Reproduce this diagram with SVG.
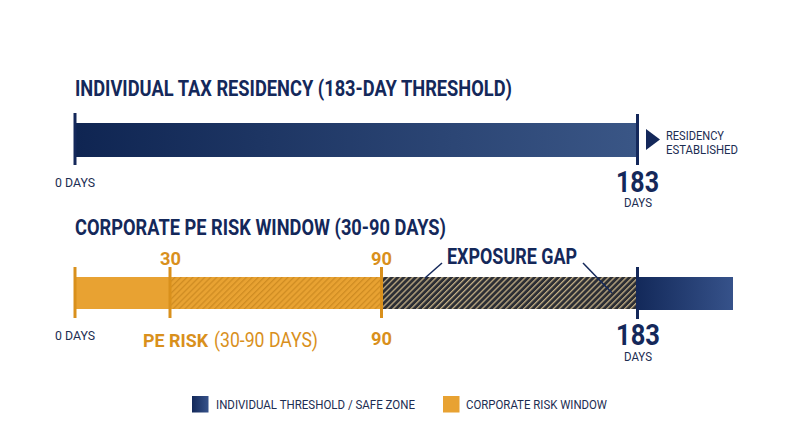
<svg xmlns="http://www.w3.org/2000/svg" width="800" height="447" viewBox="0 0 800 447">
<defs>
<linearGradient id="navy" x1="0" y1="0" x2="1" y2="0">
<stop offset="0" stop-color="#0f2552"/>
<stop offset="1" stop-color="#3a5686"/>
</linearGradient>
<linearGradient id="navy2" x1="0" y1="0" x2="1" y2="0">
<stop offset="0" stop-color="#13295a"/>
<stop offset="1" stop-color="#36528a"/>
</linearGradient>
<pattern id="hatchO" width="4.2" height="4.2" patternUnits="userSpaceOnUse" patternTransform="rotate(45)">
<rect width="4.2" height="4.2" fill="#e8a232"/>
<rect width="1.3" height="4.2" fill="#cf8c22"/>
</pattern>
<pattern id="hatchG" width="4.2" height="4.2" patternUnits="userSpaceOnUse" patternTransform="rotate(45)">
<rect width="4.2" height="4.2" fill="#2c2e34"/>
<rect width="1.3" height="4.2" fill="#c2ae86"/>
</pattern>
<style>
.t{font-family:Roboto,"Liberation Sans",sans-serif;}
.h{font-weight:bold;fill:#14285a;font-size:22px;}
.s{fill:#1c2d52;font-size:12.5px;}
.big{font-weight:bold;fill:#14285a;font-size:30px;}
.or{font-weight:bold;fill:#d9901c;font-size:19px;}
.tick{stroke:#14285a;stroke-width:3;}
.otick{stroke:#d9901c;stroke-width:3;}
.lead{stroke:#14285a;stroke-width:1.5;fill:none;}
</style>
</defs>

<g id="title-individual">
<text class="t h" x="75" y="96" textLength="437" lengthAdjust="spacingAndGlyphs">INDIVIDUAL TAX RESIDENCY (183-DAY THRESHOLD)</text>
</g>

<g id="bar-individual">
<rect x="75" y="123" width="562" height="34" fill="url(#navy)"/>
<line class="tick" x1="75" y1="113" x2="75" y2="165" stroke-width="2"/>
<line class="tick" x1="637.5" y1="114" x2="637.5" y2="165"/>
<text class="t s" x="55" y="187" font-size="14" textLength="40" lengthAdjust="spacingAndGlyphs">0 DAYS</text>
</g>

<g id="marker-183-top">
<polygon points="646,129 660,139.5 646,150" fill="#14285a"/>
<text class="t s" x="666" y="140" textLength="58" lengthAdjust="spacingAndGlyphs">RESIDENCY</text>
<text class="t s" x="666" y="154" textLength="72" lengthAdjust="spacingAndGlyphs">ESTABLISHED</text>
<text class="t big" x="616" y="192" textLength="43" lengthAdjust="spacingAndGlyphs">183</text>
<text class="t s" x="624" y="207" font-size="11.5" textLength="28" lengthAdjust="spacingAndGlyphs">DAYS</text>
</g>

<g id="title-corporate">
<text class="t h" x="75" y="235" textLength="371" lengthAdjust="spacingAndGlyphs">CORPORATE PE RISK WINDOW (30-90 DAYS)</text>
</g>

<g id="bar-corporate">
<rect x="75" y="277" width="95" height="32" fill="#e8a232"/>
<rect x="170" y="277" width="212" height="32" fill="url(#hatchO)"/>
<rect x="382" y="277" width="255" height="32" fill="url(#hatchG)"/>
<rect x="637" y="277" width="96" height="33" fill="url(#navy2)"/>
<line class="otick" x1="75" y1="267" x2="75" y2="318" stroke-width="2"/>
<line class="otick" x1="170" y1="267" x2="170" y2="318"/>
<line class="otick" x1="381.5" y1="267" x2="381.5" y2="318"/>
<line class="tick" x1="637.5" y1="267" x2="637.5" y2="319"/>
<text class="t or" x="160" y="265" textLength="21" lengthAdjust="spacingAndGlyphs">30</text>
<text class="t or" x="371" y="265" textLength="21" lengthAdjust="spacingAndGlyphs">90</text>
<text class="t or" x="371" y="345" textLength="21" lengthAdjust="spacingAndGlyphs">90</text>
<text class="t s" x="55" y="340" font-size="14" textLength="40" lengthAdjust="spacingAndGlyphs">0 DAYS</text>
</g>

<g id="label-pe-risk">
<text class="t or" x="143" y="347" font-size="20" textLength="65" lengthAdjust="spacingAndGlyphs">PE RISK</text>
<text class="t" x="214" y="347" font-size="20" fill="#d9901c" textLength="104" lengthAdjust="spacingAndGlyphs">(30-90 DAYS)</text>
</g>

<g id="label-exposure-gap">
<text class="t h" x="447" y="264" font-size="20" textLength="130" lengthAdjust="spacingAndGlyphs">EXPOSURE GAP</text>
</g>

<g id="connectors">
<line class="lead" x1="442" y1="263" x2="425" y2="278"/>
<line class="lead" x1="583" y1="263" x2="612" y2="293"/>
</g>

<g id="marker-183-bottom">
<text class="t big" x="616" y="345" textLength="44" lengthAdjust="spacingAndGlyphs">183</text>
<text class="t s" x="624" y="361" font-size="11.5" textLength="28" lengthAdjust="spacingAndGlyphs">DAYS</text>
</g>

<g id="legend">
<rect x="192" y="396" width="16.5" height="16.5" fill="url(#navy2)"/>
<text class="t s" x="216" y="409" textLength="199" lengthAdjust="spacingAndGlyphs">INDIVIDUAL THRESHOLD / SAFE ZONE</text>
<rect x="443" y="396" width="16.5" height="16.5" fill="#e8a232"/>
<text class="t s" x="466" y="409" textLength="141" lengthAdjust="spacingAndGlyphs">CORPORATE RISK WINDOW</text>
</g>
</svg>
